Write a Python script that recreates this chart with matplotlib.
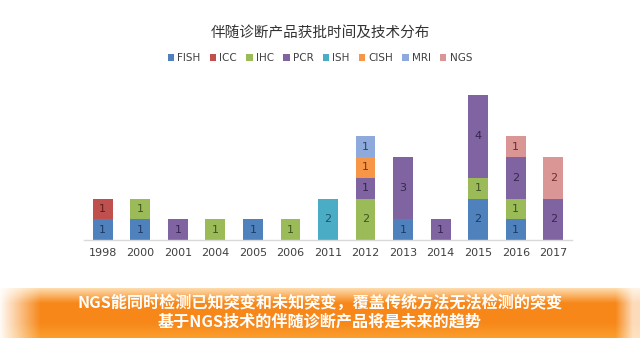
import numpy as np
import matplotlib
matplotlib.use("Agg")
import matplotlib.pyplot as plt
from matplotlib.patches import Patch

plt.rcParams['font.family'] = ['DejaVu Sans', 'Noto Sans CJK SC']

years = ['1998', '2000', '2001', '2004', '2005', '2006', '2011',
         '2012', '2013', '2014', '2015', '2016', '2017']
techs = ['FISH', 'ICC', 'IHC', 'PCR', 'ISH', 'CISH', 'MRI', 'NGS']
FISH = [1, 1, 0, 0, 1, 0, 0, 0, 1, 0, 2, 1, 0]
ICC  = [1, 0, 0, 0, 0, 0, 0, 0, 0, 0, 0, 0, 0]
IHC  = [0, 1, 0, 1, 0, 1, 0, 2, 0, 0, 1, 1, 0]
PCR  = [0, 0, 1, 0, 0, 0, 0, 1, 3, 1, 4, 2, 2]
ISH  = [0, 0, 0, 0, 0, 0, 2, 0, 0, 0, 0, 0, 0]
CISH = [0, 0, 0, 0, 0, 0, 0, 1, 0, 0, 0, 0, 0]
MRI  = [0, 0, 0, 0, 0, 0, 0, 1, 0, 0, 0, 0, 0]
NGS  = [0, 0, 0, 0, 0, 0, 0, 0, 0, 0, 0, 1, 2]
series = [FISH, ICC, IHC, PCR, ISH, CISH, MRI, NGS]

title = '伴随诊断产品获批时间及技术分布'
banner_lines = ['NGS能同时检测已知突变和未知突变，覆盖传统方法无法检测的突变',
                '基于NGS技术的伴随诊断产品将是未来的趋势']

colors = ['#4F81BD', '#C0504D', '#9BBB59', '#8064A2', '#4BACC6', '#F79646', '#8EA9DB', '#D99694']
label_colors = ['#1F3A60', '#5C1F1E', '#3F5220', '#35264F', '#1F5563', '#6E3A0E', '#2A4470', '#6E2E2C']

W, H = 640, 358
fig = plt.figure(figsize=(W / 100, H / 100), dpi=100)
fig.patch.set_facecolor('white')

# Banner background
bax = fig.add_axes([0, 0, 1, 1], zorder=0)
bax.set_xlim(0, W)
bax.set_ylim(H, 0)
bax.axis('off')
ny, nx = 60, 640
top = np.array([1.0, 0.86, 0.68])
mid = np.array([0.97, 0.53, 0.10])
bot = np.array([0.98, 0.62, 0.18])
rows = []
for tv in np.linspace(0, 1, ny):
    if tv < 0.3:
        c = top + (mid - top) * (tv / 0.3)
    elif tv < 0.7:
        c = mid
    else:
        c = mid + (bot - mid) * ((tv - 0.7) / 0.3)
    rows.append(c)
rows = np.array(rows)
img = np.ones((ny, nx, 4))
img[:, :, :3] = rows[:, None, :]
xs = np.arange(nx)
alpha = np.clip(xs / 40.0, 0, 1) * 0.95 + 0.05
alpha = np.where(xs > 615, np.clip((640 - xs) / 25.0, 0.3, 1), alpha)
img[:, :, 3] = alpha[None, :]
bax.imshow(img, extent=[0, W, 338, 288], aspect='auto', interpolation='bilinear')
for i, line in enumerate(banner_lines):
    bax.text(320, 303 + i * 19, line, ha='center', va='center', color='white',
             fontsize=11.6, fontweight='bold', family=['Noto Sans CJK SC', 'DejaVu Sans'])

# Chart
left = 84 / W
bottom = 1 - 240 / H
width = (572 - 84) / W
height = (240 - 95) / H
ax = fig.add_axes([left, bottom, width, height], zorder=1)
ax.patch.set_alpha(0)
x = np.arange(len(years))
base = np.zeros(len(years))
for name, vals, c, lc in zip(techs, series, colors, label_colors):
    vals = np.array(vals, dtype=float)
    ax.bar(x, vals, width=0.53, bottom=base, color=c, label=name)
    for xi, v, b in zip(x, vals, base):
        if v > 0:
            ax.text(xi, b + v / 2, str(int(v)), ha='center', va='center',
                    fontsize=8, color=lc)
    base = base + vals

ax.set_xlim(-0.5, 12.5)
ax.set_ylim(0, 7)
ax.set_xticks(x)
ax.set_xticklabels(years, fontsize=8, color='#404040')
ax.tick_params(axis='x', length=0, pad=6)
ax.set_yticks([])
for s in ['top', 'right', 'left']:
    ax.spines[s].set_visible(False)
ax.spines['bottom'].set_color('#D9D9D9')
ax.spines['bottom'].set_linewidth(1)

fig.text(0.5, 1 - 33 / H, title, ha='center', va='center', fontsize=10.5,
         color='#333333', family=['Noto Sans CJK SC', 'DejaVu Sans'])

handles = [Patch(facecolor=c, label=n) for n, c in zip(techs, colors)]
fig.legend(handles=handles, loc='center', bbox_to_anchor=(0.5, 1 - 58 / H),
           ncol=8, frameon=False, fontsize=7.5, handlelength=0.6, handleheight=0.6,
           handletextpad=0.3, columnspacing=0.9, labelcolor='#404040')

fig.savefig('out.png', dpi=100, facecolor='white')
